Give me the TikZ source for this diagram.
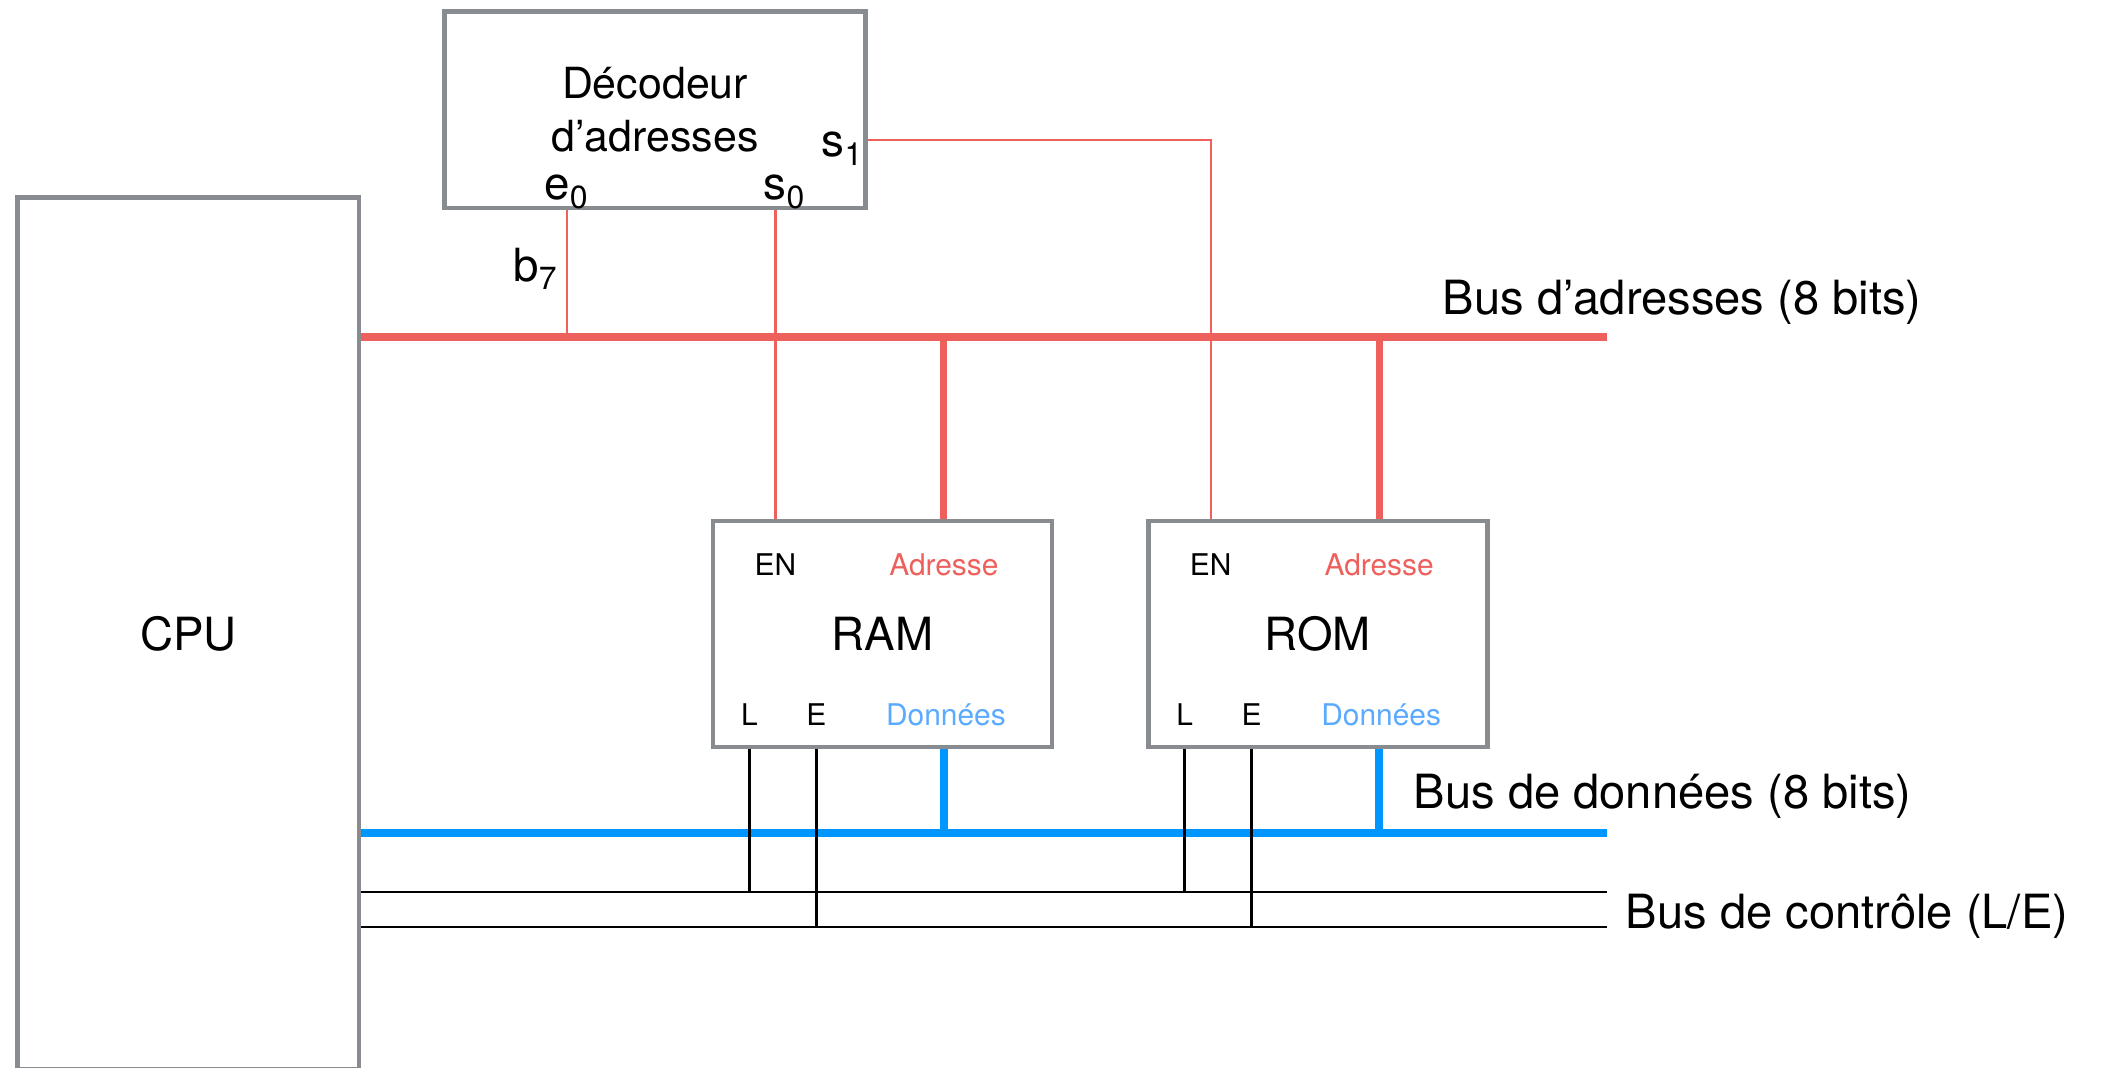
\documentclass[tikz,border=0pt]{standalone}
\usepackage{fontspec}
\setmainfont{TeX Gyre Heros}
\usetikzlibrary{positioning,calc}
\definecolor{rougeadr}{RGB}{238,96,91}
\definecolor{bleudon}{RGB}{0,150,255}
\definecolor{bleutxt}{RGB}{90,170,255}
\definecolor{grisboite}{RGB}{136,139,144}
\tikzset{
    %Define style for boxes
    boite/.style={
           rectangle,
           draw=grisboite, line width=1.35pt,
           inner sep=0pt, outer sep=0pt,
           font=\fontsize{13}{15}\selectfont},
    memoire/.style={
           boite,
           minimum width=3.39cm,
           minimum height=2.26cm},
    %Define style for labels
    broche/.style={anchor=base, inner sep=0pt, font=\fontsize{8.5}{10}\selectfont},
    patte/.style={anchor=base, inner sep=0pt, font=\fontsize{13}{15}\selectfont},
    legende/.style={anchor=base west, inner sep=0pt, font=\fontsize{13.4}{16}\selectfont},
    % Define bus styles
    busadr/.style={draw=rougeadr, line width=2pt},
    busdon/.style={draw=bleudon, line width=2.1pt},
    busctl/.style={draw=black, line width=0.75pt},
    filadr/.style={draw=rougeadr, line width=0.65pt}
}
\begin{document}
\begin{tikzpicture}[x=0.01cm, y=-0.01cm]
 \useasboundingbox (0,0) rectangle (2101,1068);
 \node[boite, minimum width=3.415cm, minimum height=8.72cm] (cpu) at (188.25,633.5) {CPU};
 \node[boite, minimum width=4.21cm, minimum height=1.965cm, align=center,
       font=\fontsize{12.2}{15.1}\selectfont] (dec) at (655,109.75) {Décodeur\\d’adresses};
 \node[memoire] (ram) at (882.5,634) {RAM};
 \node[memoire, right=0.96cm of ram] (rom) {ROM};

 \node[patte] (e0) at (567,200) {e\textsubscript{0}};
 \node[patte] (s0) at (785,200) {s\textsubscript{0}};
 \node[patte] (s1) at (843,157) {s\textsubscript{1}};
 \node[patte] (b7) at (536,282) {b\textsubscript{7}};

 \coordinate (abus) at (1607,337);
 \coordinate (dbus) at (1607,833);
 \coordinate (lbus) at (1607,892);
 \coordinate (ebus) at (1607,927);
 \coordinate (s1pin) at (865.5,140);

 \node[legende] (labadr) at (1442,315) {Bus d’adresses (8 bits)};
 \node[legende] (labdon) at (1413,809) {Bus de données (8 bits)};
 \node[legende] (labctl) at (1625,929) {Bus de contrôle (L/E)};

 \draw[busadr, shorten <=0.67pt] (cpu.east |- abus) -- (abus);
 \draw[busdon, shorten <=0.67pt] (cpu.east |- dbus) -- (dbus);
 \draw[busctl, shorten <=0.67pt] (cpu.east |- lbus) -- (lbus);
 \draw[busctl, shorten <=0.67pt] (cpu.east |- ebus) -- (ebus);

 \foreach \m in {ram,rom}{
   \node[broche] (en\m) at ($(\m.north west)+(62.5,55)$) {EN};
   \node[broche, text=rougeadr] (adr\m) at ($(\m.north west)+(231,55)$) {Adresse};
   \node[broche] (l\m) at ($(\m.north west)+(36.5,205)$) {L};
   \node[broche] (e\m) at ($(\m.north west)+(103.5,205)$) {E};
   \node[broche, text=bleutxt] (don\m) at ($(\m.north west)+(233,205)$) {Données};
   \draw[busadr, shorten >=0.67pt] (adr\m |- abus) -- (adr\m |- \m.north);
   \draw[busdon, shorten <=0.67pt] (adr\m |- \m.south) -- (adr\m |- dbus);
   \draw[busctl, shorten <=0.67pt] (l\m |- \m.south) -- (l\m |- lbus);
   \draw[busctl, shorten <=0.67pt] (e\m |- \m.south) -- (e\m |- ebus);
 }

 \draw[filadr, shorten <=0.67pt] (e0 |- dec.south) -- (e0 |- abus);
 \draw[filadr, shorten <=0.67pt, shorten >=0.67pt] (enram |- dec.south) -- (enram |- ram.north);
 \draw[filadr, shorten <=0.67pt, shorten >=0.67pt] (s1pin) -| (enrom |- rom.north);
\end{tikzpicture}
\end{document}
